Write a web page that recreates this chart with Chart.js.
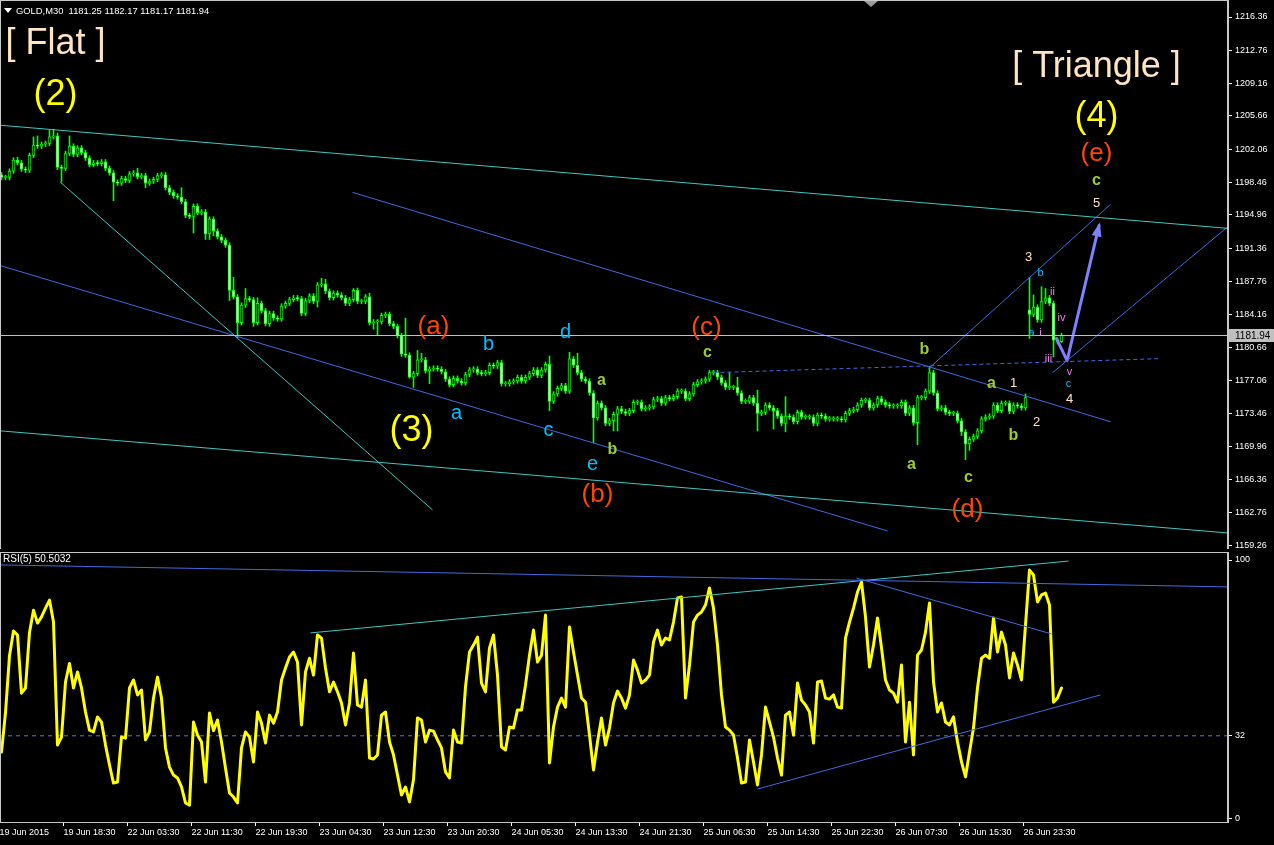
<!DOCTYPE html>
<html>
<head>
<meta charset="utf-8">
<script src="https://cdn.jsdelivr.net/npm/chart.js@4.4.0/dist/chart.umd.min.js"></script>
<style>
html, body { margin: 0; padding: 0; background: #000; overflow: hidden; }
#wrap { position: relative; width: 1274px; height: 845px; }
#mainBox { position: absolute; left: 0; top: 0; width: 1274px; height: 549px; }
#rsiBox { position: absolute; left: 0; top: 549px; width: 1274px; height: 296px; }
</style>
</head>
<body>
<div id="wrap">
  <div id="mainBox"><canvas id="main"></canvas></div>
  <div id="rsiBox"><canvas id="rsi"></canvas></div>
</div>
<script>
// GOLD M30 closes, one per bar (bar 257 is the Monday gap)
const closes = [
  1199.0, 1199.0, 1199.7, 1200.9, 1200.6, 1199.9, 1199.8, 1201.4, 1202.5, 1202.4, 1202.6, 1202.7, 1203.4, 1203.5, 1200.1, 1200.0,
  1201.6, 1202.4, 1201.5, 1202.2, 1201.7, 1201.1, 1200.4, 1200.6, 1200.5, 1200.7, 1200.0, 1199.5, 1198.5, 1198.4, 1198.9, 1198.7,
  1199.4, 1199.5, 1199.1, 1199.2, 1198.4, 1198.6, 1198.8, 1199.2, 1199.3, 1197.9, 1197.4, 1197.0, 1196.9, 1196.4, 1194.9, 1194.8,
  1195.9, 1195.2, 1195.3, 1192.9, 1194.5, 1193.2, 1192.6, 1192.2, 1191.7, 1186.8, 1186.1, 1183.3, 1185.2, 1185.9, 1185.8, 1183.3,
  1185.4, 1184.6, 1183.2, 1184.3, 1183.8, 1183.7, 1185.1, 1185.4, 1185.8, 1186.0, 1185.9, 1184.3, 1185.7, 1186.2, 1185.6, 1187.4,
  1187.5, 1186.7, 1186.0, 1186.5, 1186.3, 1186.0, 1185.4, 1185.8, 1186.8, 1185.6, 1185.6, 1186.1, 1183.3, 1183.4, 1183.4, 1184.1,
  1184.2, 1183.2, 1182.9, 1181.9, 1179.9, 1179.8, 1177.4, 1177.8, 1179.3, 1179.3, 1178.1, 1178.3, 1178.4, 1178.3, 1178.0, 1177.2,
  1176.6, 1177.3, 1177.0, 1176.8, 1177.7, 1178.2, 1178.3, 1177.9, 1177.8, 1177.9, 1178.7, 1178.6, 1179.0, 1176.7, 1176.7, 1176.9,
  1177.0, 1177.4, 1177.0, 1177.4, 1177.8, 1178.2, 1177.6, 1178.2, 1178.8, 1174.8, 1175.6, 1176.2, 1176.5, 1175.9, 1179.4, 1178.7,
  1177.9, 1177.2, 1177.0, 1175.7, 1173.0, 1174.6, 1174.1, 1172.4, 1172.7, 1173.4, 1174.0, 1173.7, 1173.5, 1173.8, 1174.7, 1174.7,
  1174.0, 1174.1, 1174.2, 1175.0, 1175.1, 1174.6, 1175.2, 1175.1, 1175.3, 1175.9, 1175.9, 1175.1, 1175.6, 1176.6, 1176.9, 1177.0,
  1177.2, 1177.9, 1177.9, 1177.4, 1176.8, 1176.3, 1176.3, 1176.3, 1175.7, 1174.8, 1174.8, 1175.2, 1174.6, 1173.5, 1173.6, 1174.4,
  1174.1, 1173.8, 1173.2, 1172.4, 1173.2, 1173.1, 1172.6, 1173.6, 1173.1, 1173.1, 1173.1, 1172.4, 1173.3, 1173.2, 1172.9, 1172.9,
  1172.9, 1172.9, 1172.8, 1173.5, 1173.8, 1173.9, 1174.4, 1174.9, 1174.9, 1174.1, 1174.4, 1175.1, 1174.7, 1174.4, 1174.3, 1174.3,
  1174.3, 1174.7, 1173.5, 1174.1, 1172.5, 1175.2, 1175.2, 1175.9, 1177.9, 1175.7, 1174.0, 1174.1, 1173.6, 1173.5, 1173.5, 1172.7,
  1171.5, 1170.2, 1170.7, 1171.0, 1171.6, 1172.9, 1173.1, 1173.2, 1174.4, 1173.8, 1174.6, 1174.6, 1173.7, 1174.4, 1174.3, 1174.1,
  1175.2, 1184.2, 1185.0, 1183.6, 1185.6, 1186.0, 1185.4, 1181.4, 1181.25, 1181.94
];
const firstOpen = 1199.3;
const gapBar = 257;
const gapOpen = 1184.7;

// longer shadows (bar index -> price)
const wickHigh = {
  4: 1201.2, 8: 1203.4, 9: 1203.5, 12: 1204.1, 13: 1204.2, 14: 1203.8, 17: 1203.5, 34: 1200.0, 45: 1197.9,
  58: 1188.2, 61: 1187.0, 64: 1186.0, 80: 1188.1, 81: 1188.0, 88: 1187.0, 92: 1186.5, 101: 1183.8,
  104: 1180.3, 105: 1180.0, 137: 1179.7, 142: 1180.1, 144: 1180.0, 182: 1177.9, 184: 1177.4, 189: 1176.0,
  196: 1175.3, 232: 1178.6, 256: 1175.6, 257: 1188.2, 258: 1186.3, 260: 1187.2, 261: 1187.0, 265: 1182.17
};
const wickLow = {
  15: 1198.5, 28: 1196.5, 36: 1197.9, 48: 1193.0, 51: 1192.3, 52: 1192.3, 53: 1192.7, 57: 1185.7, 59: 1181.7,
  63: 1182.9, 67: 1182.9, 79: 1185.0, 93: 1182.6, 94: 1181.9, 102: 1177.3, 103: 1176.3, 107: 1176.7,
  137: 1173.8, 148: 1170.3, 153: 1171.6, 154: 1171.6, 189: 1171.6, 193: 1171.8, 196: 1171.5, 228: 1172.2,
  229: 1170.1, 240: 1171.1, 241: 1168.5, 242: 1169.5, 257: 1181.6, 263: 1179.6, 265: 1181.17
};

// RSI(5) per bar
const rsiValues = [
  25.7, 41, 63, 72.5, 71, 48.5, 50.5, 72, 80.6, 75.6, 78, 81.4, 84.5, 76, 28.4, 31.5,
  52.8, 60, 50.5, 56.7, 50.5, 41.2, 34.2, 33.5, 39.3, 37.3, 28.4, 20.7, 13.7, 14.1, 31.5, 31.1,
  50.5, 53.6, 47.8, 49.7, 30.4, 33.5, 46.6, 54.7, 46.6, 27.3, 19.9, 16.8, 15.7, 12.2, 6, 5.2,
  37.3, 32.3, 29.6, 14.1, 40.8, 34, 38.1, 29.6, 19.5, 9.9, 8.3, 6.0, 27.3, 33.5, 31.5, 21.9,
  41.2, 36.9, 29.2, 40, 36.9, 41.2, 53.6, 58.2, 62.5, 64.4, 60.5, 36.2, 56.7, 62, 55.5, 71,
  69.8, 58.2, 49, 52.8, 49, 44.7, 36.2, 44.7, 64, 43.9, 43.1, 53.6, 23.4, 23, 24.6, 40,
  41.2, 29.6, 24.6, 16.8, 9.1, 12.2, 6.4, 15, 38.9, 38.1, 29.6, 34.2, 33.8, 30.4, 27.3, 18,
  15.7, 34.2, 29.6, 29.2, 50.9, 64.4, 67.1, 70.2, 52.4, 49, 66, 71, 55.5, 27.7, 26.5, 35.4,
  35, 42, 42, 51.6, 63.2, 72.9, 60.5, 63.2, 78.7, 21.5, 35.4, 43.1, 46.6, 43.1, 74.1, 64.4,
  55.5, 46.6, 45, 32.3, 18.8, 29.6, 38.9, 28.4, 35, 44.7, 49.3, 46.6, 42.7, 47.8, 61.3, 57.4,
  52.4, 53.6, 55.5, 68.3, 72.9, 67.1, 69.8, 69.1, 76, 85.3, 85.7, 46.6, 59.4, 76, 78.7, 79.9,
  82.6, 89.2, 81.4, 67.1, 47.8, 35.4, 34.2, 32.3, 23.4, 13.7, 14.1, 30.4, 21.9, 13, 24.6, 43.1,
  37.3, 31.5, 23.4, 16.8, 40, 41.2, 32.3, 52.4, 45.8, 43.9, 41.2, 29.2, 52.8, 53.2, 46.6, 46.2,
  47.8, 43.1, 42.7, 69.8, 76, 81.4, 87.6, 91.5, 78, 58.6, 67.1, 77.6, 66, 53.6, 49.7, 48.5,
  45, 59.4, 29.6, 45, 24.6, 63.2, 65.2, 72.1, 83.4, 52.8, 41.2, 44.7, 37.3, 36.2, 39.3, 29.6,
  21.9, 16.1, 25.7, 35, 50.5, 62, 63.2, 62, 77.6, 64.4, 72.1, 67.1, 54.4, 64, 59.4, 53.6,
  74.8, 96.1, 94.2, 83.8, 86.5, 87.2, 82.6, 45, 46.6, 50.5032
];

// one time label every 16 bars
const timeLabels = [
  '19 Jun 2015', '19 Jun 18:30', '22 Jun 03:30', '22 Jun 11:30', '22 Jun 19:30', '23 Jun 04:30',
  '23 Jun 12:30', '23 Jun 20:30', '24 Jun 05:30', '24 Jun 13:30', '24 Jun 21:30', '25 Jun 06:30',
  '25 Jun 14:30', '25 Jun 22:30', '26 Jun 07:30', '26 Jun 15:30', '26 Jun 23:30'
];
const priceTicks = [1216.36, 1212.76, 1209.16, 1205.66, 1202.06, 1198.46, 1194.96, 1191.36, 1187.76,
  1184.16, 1180.66, 1177.06, 1173.46, 1169.96, 1166.36, 1162.76, 1159.26];
const rsiTicks = [100, 32, 0];
const rsiLevel = 32;
const lastQuote = { o: 1181.25, h: 1182.17, l: 1181.17, c: 1181.94 };

// ---- chart objects drawn by hand on the terminal (bar index, price) ----
const mainLines = [
  { a: [-0.4, 1204.66], b: [306.7, 1193.50], color: '#3cc8c0' },
  { a: [-0.4, 1171.61], b: [306.7, 1160.56], color: '#3cc8c0' },
  { a: [14.75, 1198.48], b: [107.75, 1163.06], color: '#3cc8c0' },
  { a: [-0.4, 1189.49], b: [221.5, 1160.78], color: '#4169e1' },
  { a: [87.75, 1197.40], b: [277.25, 1172.59], color: '#4169e1' },
  { a: [231.75, 1178.33], b: [277.25, 1196.10], color: '#4169e1' },
  { a: [262.75, 1177.90], b: [306.7, 1193.72], color: '#4169e1' },
  { a: [178, 1177.90], b: [289.75, 1179.42], color: '#4169e1', dash: [4, 3] }
];
const arrowPath = [[263.75, 1181.58], [266.4, 1179.20], [274.4, 1193.82]];

const rsiLines = [
  { a: [-0.4, 98.1], b: [306.7, 89.6], color: '#4169e1' },
  { a: [77.25, 71.8], b: [266.75, 99.6], color: '#3cc8c0' },
  { a: [213.75, 93.0], b: [262.5, 71.4], color: '#4169e1' },
  { a: [189, 11.4], b: [274.75, 47.8], color: '#4169e1' }
];

const waveLabels = [
  { t: '[ Flat ]', x: 13.5, y: 1213.4, c: '#ffe4c4', f: '36px' },
  { t: '(2)', x: 13.5, y: 1207.9, c: '#ffff00', f: '36px' },
  { t: '[ Triangle ]', x: 273.75, y: 1210.9, c: '#ffe4c4', f: '36px' },
  { t: '(4)', x: 273.75, y: 1205.5, c: '#ffff00', f: '36px' },
  { t: '(e)', x: 273.75, y: 1201.6, c: '#ff4500', f: '26px' },
  { t: 'c', x: 273.75, y: 1198.7, c: '#9acd32', f: 'bold 16px' },
  { t: '5', x: 273.75, y: 1196.2, c: '#ffe4c4', f: '13px' },
  { t: '(3)', x: 102.5, y: 1171.6, c: '#ffff00', f: '36px' },
  { t: '(a)', x: 108, y: 1182.9, c: '#ff4500', f: '26px' },
  { t: 'b', x: 121.75, y: 1181.0, c: '#00bfff', f: '20px' },
  { t: 'd', x: 141, y: 1182.2, c: '#00bfff', f: '20px' },
  { t: 'a', x: 113.75, y: 1173.5, c: '#00bfff', f: '20px' },
  { t: 'c', x: 136.75, y: 1171.6, c: '#00bfff', f: '20px' },
  { t: 'e', x: 147.75, y: 1168.0, c: '#00bfff', f: '20px' },
  { t: 'a', x: 150, y: 1177.0, c: '#9acd32', f: 'bold 16px' },
  { t: 'b', x: 152.75, y: 1169.6, c: '#9acd32', f: 'bold 16px' },
  { t: '(b)', x: 149, y: 1164.7, c: '#ff4500', f: '26px' },
  { t: '(c)', x: 176.25, y: 1182.7, c: '#ff4500', f: '26px' },
  { t: 'c', x: 176.5, y: 1180.1, c: '#9acd32', f: 'bold 16px' },
  { t: 'b', x: 230.75, y: 1180.4, c: '#9acd32', f: 'bold 16px' },
  { t: 'a', x: 227.5, y: 1168.0, c: '#9acd32', f: 'bold 16px' },
  { t: 'c', x: 241.75, y: 1166.5, c: '#9acd32', f: 'bold 16px' },
  { t: '(d)', x: 241.5, y: 1163.1, c: '#ff4500', f: '26px' },
  { t: 'a', x: 247.5, y: 1176.7, c: '#9acd32', f: 'bold 16px' },
  { t: '1', x: 253, y: 1176.7, c: '#ffe4c4', f: '13px' },
  { t: 'b', x: 253, y: 1171.1, c: '#9acd32', f: 'bold 16px' },
  { t: '2', x: 258.75, y: 1172.5, c: '#ffe4c4', f: '13px' },
  { t: '3', x: 256.75, y: 1190.4, c: '#ffe4c4', f: '13px' },
  { t: 'b', x: 259.75, y: 1188.7, c: '#00bfff', f: '11px' },
  { t: 'a', x: 257.5, y: 1182.2, c: '#00bfff', f: '11px' },
  { t: 'i', x: 259.75, y: 1182.2, c: '#ee82ee', f: '11px' },
  { t: 'ii', x: 262.75, y: 1186.6, c: '#ee82ee', f: '11px' },
  { t: 'iii', x: 261.75, y: 1179.4, c: '#ee82ee', f: '11px' },
  { t: 'iv', x: 265, y: 1183.8, c: '#ee82ee', f: '11px' },
  { t: 'v', x: 267, y: 1178.0, c: '#ee82ee', f: '11px' },
  { t: 'c', x: 266.75, y: 1176.7, c: '#00bfff', f: '11px' },
  { t: '4', x: 267, y: 1175.0, c: '#ffe4c4', f: '13px' }
];

// ---- build candles ----
const bodies = [], wicks = [], bodyColors = [];
closes.forEach((c, i) => {
  const o = i === 0 ? firstOpen : (i === gapBar ? gapOpen : closes[i - 1]);
  const hi = wickHigh[i] !== undefined ? wickHigh[i] : Math.max(o, c) + 0.25;
  const lo = wickLow[i] !== undefined ? wickLow[i] : Math.min(o, c) - 0.25;
  bodies.push({ x: i, y: [o, c] });
  wicks.push({ x: i, y: [lo, hi] });
  bodyColors.push(c >= o ? '#000000' : '#ffffff');
});

const X_MIN = -0.375, X_MAX = 306.625;
const FONT = '"Liberation Sans", Arial, sans-serif';

function lineSet(l) {
  return {
    type: 'line',
    data: [{ x: l.a[0], y: l.a[1] }, { x: l.b[0], y: l.b[1] }],
    borderColor: l.color, borderWidth: 1, borderDash: l.dash || [],
    pointRadius: 0, tension: 0
  };
}

const frame = {
  id: 'frame',
  afterDraw(chart) {
    const { ctx, chartArea: a } = chart;
    ctx.save();
    ctx.strokeStyle = '#c8c8c8';
    ctx.lineWidth = 1;
    ctx.strokeRect(a.left + 0.5, a.top + 0.5, a.right - a.left - 1, a.bottom - a.top);
    ctx.restore();
  }
};

const mainDecor = {
  id: 'mainDecor',
  afterDatasetsDraw(chart) {
    const { ctx, scales: { x, y }, chartArea: a } = chart;
    ctx.save();
    // current bid line
    const py = Math.round(y.getPixelForValue(lastQuote.c)) + 0.5;
    ctx.strokeStyle = '#c0c0c0';
    ctx.beginPath(); ctx.moveTo(a.left, py); ctx.lineTo(a.right, py); ctx.stroke();

    // arrow head
    const p1 = arrowPath[1], p2 = arrowPath[2];
    const x1 = x.getPixelForValue(p1[0]), y1 = y.getPixelForValue(p1[1]);
    const x2 = x.getPixelForValue(p2[0]), y2 = y.getPixelForValue(p2[1]);
    const ang = Math.atan2(y2 - y1, x2 - x1);
    ctx.fillStyle = '#7f7fff';
    ctx.beginPath();
    ctx.moveTo(x2 + 3 * Math.cos(ang), y2 + 3 * Math.sin(ang));
    ctx.lineTo(x2 - 11 * Math.cos(ang) + 5 * Math.sin(ang), y2 - 11 * Math.sin(ang) - 5 * Math.cos(ang));
    ctx.lineTo(x2 - 11 * Math.cos(ang) - 5 * Math.sin(ang), y2 - 11 * Math.sin(ang) + 5 * Math.cos(ang));
    ctx.closePath(); ctx.fill();

    // wave labels
    ctx.textAlign = 'center';
    ctx.textBaseline = 'middle';
    waveLabels.forEach(l => {
      ctx.font = l.f + ' ' + FONT;
      ctx.fillStyle = l.c;
      ctx.fillText(l.t, x.getPixelForValue(l.x), y.getPixelForValue(l.y));
    });

    // header
    ctx.textAlign = 'left';
    ctx.font = '9.4px ' + FONT;
    ctx.fillStyle = '#ffffff';
    ctx.fillText('GOLD,M30  ' + [lastQuote.o, lastQuote.h, lastQuote.l, lastQuote.c].map(v => v.toFixed(2)).join(' '), 16, 11);
    ctx.beginPath(); ctx.moveTo(4, 8); ctx.lineTo(12, 8); ctx.lineTo(8, 13); ctx.closePath(); ctx.fill();

    // chart shift marker
    ctx.fillStyle = '#9a9a9a';
    ctx.beginPath(); ctx.moveTo(864, 1); ctx.lineTo(878, 1); ctx.lineTo(871, 7); ctx.closePath(); ctx.fill();

    // price box on the axis
    ctx.fillStyle = '#c0c0c0';
    ctx.fillRect(a.right + 1, py - 6.5, 45, 13);
    ctx.fillStyle = '#000000';
    ctx.font = '10px ' + FONT;
    ctx.fillText(lastQuote.c.toFixed(2), a.right + 7, py + 0.5);
    ctx.restore();
  }
};

const rsiDecor = {
  id: 'rsiDecor',
  afterDraw(chart) {
    const { ctx } = chart;
    ctx.save();
    ctx.font = '10px ' + FONT;
    ctx.fillStyle = '#ffffff';
    ctx.textBaseline = 'middle';
    ctx.fillText('RSI(5) ' + rsiValues[rsiValues.length - 1].toFixed(4), 3, 10);
    ctx.restore();
  }
};

const yAxisFit = s => { s.width = 46; s.paddingTop = 0; s.paddingBottom = 0; };

new Chart(document.getElementById('main'), {
  type: 'bar',
  data: {
    datasets: [
      ...mainLines.map(lineSet),
      {
        type: 'line',
        data: arrowPath.map(p => ({ x: p[0], y: p[1] })),
        borderColor: '#7f7fff', borderWidth: 3, pointRadius: 0, tension: 0,
        borderJoinStyle: 'round', borderCapStyle: 'round'
      },
      {
        data: bodies, backgroundColor: bodyColors, borderColor: '#00ff00', borderWidth: 1,
        borderSkipped: false, barThickness: 3, minBarLength: 1, grouped: false
      },
      {
        data: wicks, backgroundColor: '#00ff00', borderWidth: 0,
        barThickness: 1, grouped: false
      }
    ]
  },
  options: {
    responsive: true,
    maintainAspectRatio: false,
    animation: false,
    layout: { padding: 0 },
    plugins: { legend: { display: false }, tooltip: { enabled: false } },
    scales: {
      x: { type: 'linear', min: X_MIN, max: X_MAX, offset: false, display: false },
      y: {
        position: 'right', min: 1158.83, max: 1218.20,
        afterBuildTicks: s => { s.ticks = priceTicks.map(v => ({ value: v })); },
        afterFit: yAxisFit,
        grid: { drawOnChartArea: false, color: '#ffffff', tickLength: 4 },
        border: { color: '#c8c8c8' },
        ticks: { color: '#ffffff', padding: 3, font: { family: FONT, size: 9 }, callback: v => v.toFixed(2) }
      }
    }
  },
  plugins: [frame, mainDecor]
});

new Chart(document.getElementById('rsi'), {
  type: 'line',
  data: {
    datasets: [
      ...rsiLines.map(lineSet),
      {
        data: rsiValues.map((v, i) => ({ x: i, y: v })),
        borderColor: '#ffff00', borderWidth: 3, pointRadius: 0, tension: 0,
        borderJoinStyle: 'round', borderCapStyle: 'round'
      },
      {
        data: [{ x: X_MIN, y: rsiLevel }, { x: X_MAX, y: rsiLevel }],
        borderColor: '#6a6ad8', borderWidth: 1, borderDash: [4, 4], pointRadius: 0
      }
    ]
  },
  options: {
    responsive: true,
    maintainAspectRatio: false,
    animation: false,
    layout: { padding: { top: 3 } },
    plugins: { legend: { display: false }, tooltip: { enabled: false } },
    scales: {
      x: {
        type: 'linear', min: X_MIN, max: X_MAX, offset: false,
        afterBuildTicks: s => { s.ticks = timeLabels.map((_, k) => ({ value: 16 * k - 0.5 })); },
        afterFit: s => { s.height = 23; s.paddingLeft = 0; s.paddingRight = 0; },
        grid: { drawOnChartArea: false, color: '#ffffff', tickLength: 4 },
        border: { color: '#c8c8c8' },
        ticks: {
          color: '#ffffff', autoSkip: false, maxRotation: 0, minRotation: 0, align: 'start', padding: 1,
          font: { family: FONT, size: 9 }, callback: (v, i) => timeLabels[i]
        }
      },
      y: {
        position: 'right', min: -1.35, max: 103.1,
        afterBuildTicks: s => { s.ticks = rsiTicks.map(v => ({ value: v })); },
        afterFit: yAxisFit,
        grid: { drawOnChartArea: false, color: '#ffffff', tickLength: 4 },
        border: { color: '#c8c8c8' },
        ticks: { color: '#ffffff', padding: 3, font: { family: FONT, size: 9 } }
      }
    }
  },
  plugins: [frame, rsiDecor]
});
</script>
</body>
</html>
